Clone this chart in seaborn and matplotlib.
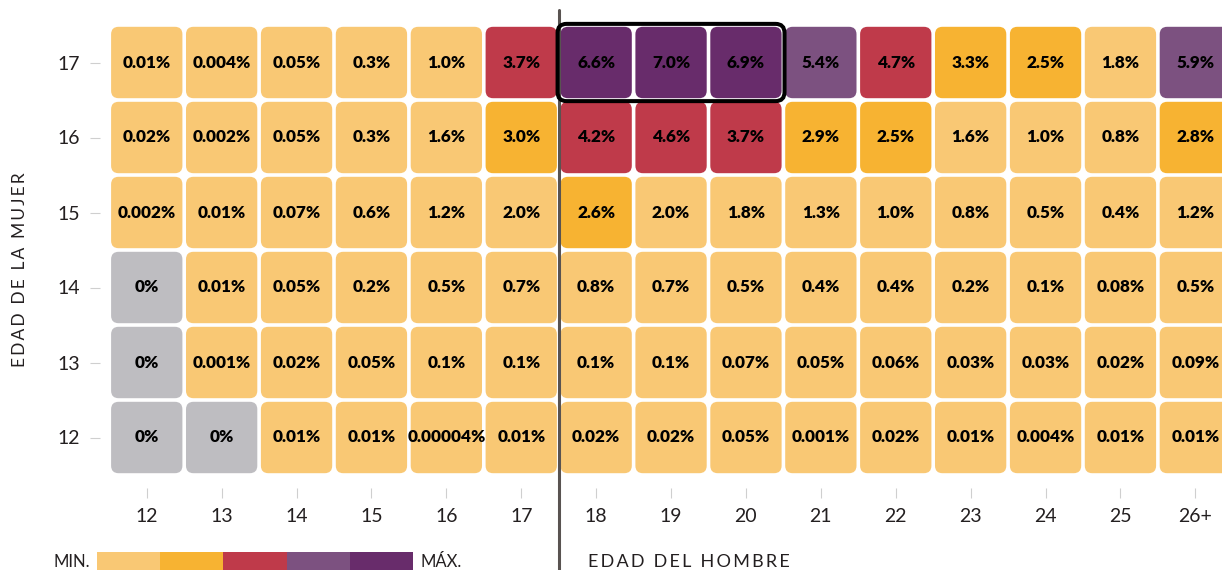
import numpy as np
import pandas as pd
import matplotlib
matplotlib.use("Agg")
import matplotlib.pyplot as plt
import seaborn as sns
from matplotlib.colors import ListedColormap, BoundaryNorm
from matplotlib.patches import FancyBboxPatch

# edad del hombre (columnas) y edad de la mujer (filas, de 17 a 12)
men_ages = ["12", "13", "14", "15", "16", "17", "18", "19", "20", "21", "22", "23", "24", "25", "26+"]
women_ages = ["17", "16", "15", "14", "13", "12"]

row17 = [0.01, 0.004, 0.05, 0.3, 1.0, 3.7, 6.6, 7.0, 6.9, 5.4, 4.7, 3.3, 2.5, 1.8, 5.9]
row16 = [0.02, 0.002, 0.05, 0.3, 1.6, 3.0, 4.2, 4.6, 3.7, 2.9, 2.5, 1.6, 1.0, 0.8, 2.8]
row15 = [0.002, 0.01, 0.07, 0.6, 1.2, 2.0, 2.6, 2.0, 1.8, 1.3, 1.0, 0.8, 0.5, 0.4, 1.2]
row14 = [0, 0.01, 0.05, 0.2, 0.5, 0.7, 0.8, 0.7, 0.5, 0.4, 0.4, 0.2, 0.1, 0.08, 0.5]
row13 = [0, 0.001, 0.02, 0.05, 0.1, 0.1, 0.1, 0.1, 0.07, 0.05, 0.06, 0.03, 0.03, 0.02, 0.09]
row12 = [0, 0, 0.01, 0.01, 0.00004, 0.01, 0.02, 0.02, 0.05, 0.001, 0.02, 0.01, 0.004, 0.01, 0.01]

# gris para 0%, luego de MIN. a MÁX.
bin_edges = [0, 1e-9, 2.3, 3.5, 5.0, 6.0, 8.0]
bin_colors = ["#BEBDC1", "#F9C874", "#F7B332", "#BF3A4A", "#7C5180", "#682C6B"]

df = pd.DataFrame([row17, row16, row15, row14, row13, row12], index=women_ages, columns=men_ages)


def fmt_pct(v):
    if v == 0:
        return "0%"
    if v >= 0.1:
        return f"{v:.1f}%"
    return np.format_float_positional(v) + "%"


labels = df.map(fmt_pct).values

sns.set_style("white")
plt.rcParams["font.family"] = ["Lato", "DejaVu Sans"]

W, H = 1222, 570
fig = plt.figure(figsize=(W / 100, H / 100), dpi=100)
ax = fig.add_axes([109.3 / W, 95 / H, 1123.5 / W, 450 / H])

cmap = ListedColormap(bin_colors)
norm = BoundaryNorm(bin_edges, cmap.N)
sns.heatmap(df, cmap=cmap, norm=norm, annot=labels, fmt="", cbar=False, ax=ax,
            annot_kws={"color": "black", "fontsize": 12.3, "fontweight": "heavy"})

# rounded cells in place of the flat mesh
mesh = ax.collections[0]
rgba = mesh.to_rgba(np.asarray(mesh.get_array()).reshape(df.shape))
mesh.set_visible(False)
g = 0.024
for i in range(df.shape[0]):
    for j in range(df.shape[1]):
        ax.add_patch(FancyBboxPatch((j + g, i + g), 1 - 2 * g, 1 - 2 * g,
                                    boxstyle="round,pad=0,rounding_size=0.1",
                                    fc=rgba[i, j], ec="none", zorder=1))

ax.set_xticklabels(men_ages, rotation=0)
ax.set_yticklabels(women_ages, rotation=0)
ax.set_xlabel("")
ax.set_ylabel("")
ax.spines["bottom"].set_position(("outward", 9.4))
ax.spines["left"].set_position(("outward", 6.7))
ax.tick_params(axis="both", length=7.2, width=0.8, color="#cfcfcf",
               labelsize=14, labelcolor="#231f20", pad=7)
ax.tick_params(axis="x", bottom=True)
ax.tick_params(axis="y", left=True)

# separación 17 | 18
ax.axvline(6, ymin=-0.211, ymax=1.033, color="#595351", lw=2.2, clip_on=False, zorder=3)

# recuadro 17 con 18-20
ax.add_patch(FancyBboxPatch((6, 0), 3, 1, boxstyle="round,pad=0.015,rounding_size=0.12",
                            fc="none", ec="black", lw=2.9, clip_on=False, zorder=4))

sp = "\u2009"
fig.text(20 / W, 1 - 270 / H, sp.join("EDAD DE LA MUJER"), rotation=90,
         ha="center", va="center", fontsize=12.5, color="#231f20")
fig.text(588 / W, 1 - 562 / H, sp.join("EDAD DEL HOMBRE"),
         ha="left", va="center", fontsize=13, color="#231f20")

# leyenda MIN. -> MÁX.
lax = fig.add_axes([97 / W, 0, 316 / W, 18 / H])
sns.heatmap([[0, 1, 2, 3, 4]], cmap=ListedColormap(bin_colors[1:]), cbar=False,
            xticklabels=False, yticklabels=False, ax=lax)
fig.text(90 / W, 1 - 562 / H, "MIN.", ha="right", va="center", fontsize=12, color="#231f20")
fig.text(420 / W, 1 - 562 / H, "MÁX.", ha="left", va="center", fontsize=12, color="#231f20")

fig.savefig("out.png", dpi=100)
